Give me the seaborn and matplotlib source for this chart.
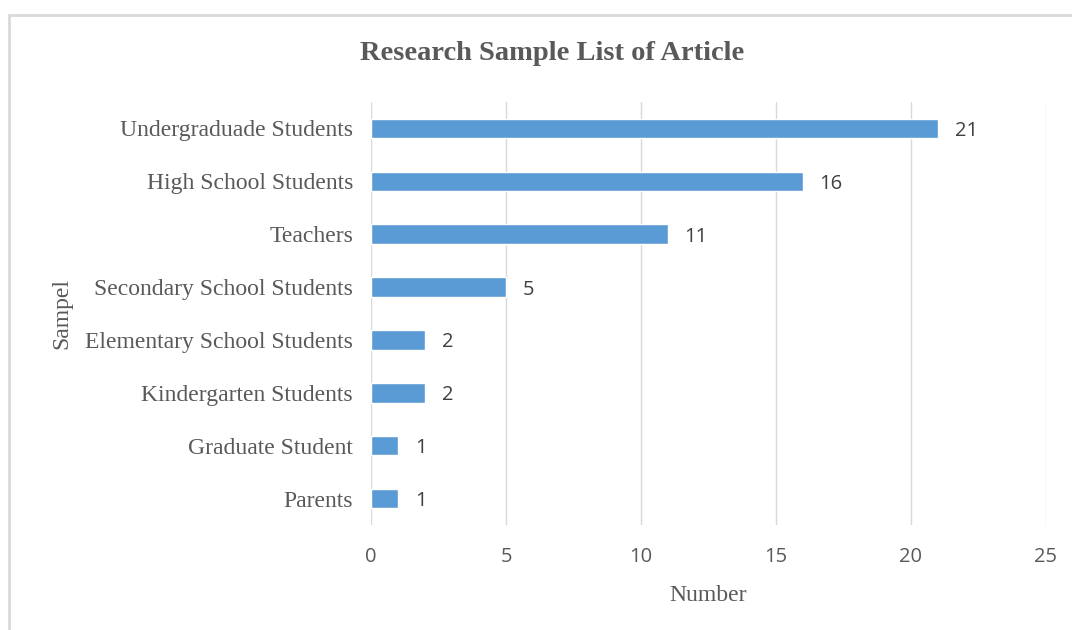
import matplotlib
matplotlib.use("Agg")
import matplotlib.pyplot as plt
import seaborn as sns
import pandas as pd
from matplotlib.patches import Rectangle

categories = ["Undergraduade Students", "High School Students", "Teachers",
              "Secondary School Students", "Elementary School Students",
              "Kindergarten Students", "Graduate Student", "Parents"]
values = [21, 16, 11, 5, 2, 2, 1, 1]
xticks = [0, 5, 10, 15, 20, 25]

df = pd.DataFrame({"Sampel": categories, "Number": values})

sns.set_theme(style="white")
serif = ["Liberation Serif", "DejaVu Serif"]
sans = ["Open Sans", "DejaVu Sans"]
gray = "#595959"

fig = plt.figure(figsize=(10.72, 6.3), dpi=100)
ax = fig.add_axes([0.3461, 0.1667, 0.6296, 0.6714])

sns.barplot(data=df, x="Number", y="Sampel", orient="h", color="#5B9BD5",
            width=0.37, saturation=1, ax=ax, order=categories)

ax.set_xlim(0, 25)
ax.set_xticks(xticks)
ax.set_xticklabels([str(t) for t in xticks], family=sans, fontsize=14.5, color=gray)
ax.tick_params(axis="x", length=0, pad=16)
ax.tick_params(axis="y", length=0, pad=13)
for lbl in ax.get_yticklabels():
    lbl.set_family(serif)
    lbl.set_fontsize(17)
    lbl.set_color(gray)
ax.grid(axis="x", color="#D9D9D9", linewidth=1)
ax.set_axisbelow(True)
for s in ax.spines.values():
    s.set_visible(False)

ax.set_xlabel("Number", family=serif, fontsize=17, color=gray)
ax.xaxis.set_label_coords(0.5, -0.141)
ax.set_ylabel("Sampel", family=serif, fontsize=17, color=gray)
ax.yaxis.set_label_coords(-0.443, 0.5)

for container in ax.containers:
    labs = ax.bar_label(container, labels=[str(v) for v in values], padding=12,
                        family=sans, fontsize=14.5, color="#404040")
    for t in labs:
        t.set_va("center_baseline")

fig.text(0.515, 0.915, "Research Sample List of Article", family=serif,
         fontsize=20.5, fontweight="bold", color=gray, ha="center", va="center")

fig.patches.append(Rectangle((9 / 1072, -0.05), 1.1, 1 - 15 / 630 + 0.05,
                             transform=fig.transFigure, fill=False,
                             edgecolor="#D9D9D9", linewidth=2))

fig.savefig("out.png", dpi=100)
